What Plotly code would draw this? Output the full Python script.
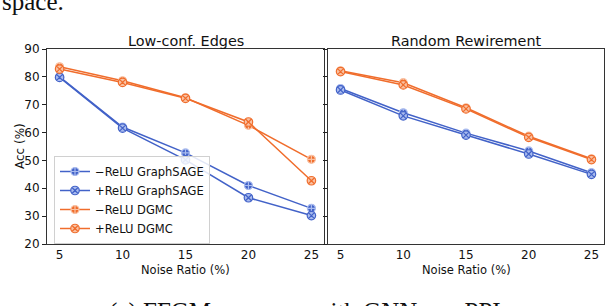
import plotly.graph_objects as go

noise = [5, 10, 15, 20, 25]

# Low-conf. Edges
lc_sage_minus = [80.0, 62.0, 52.7, 41.0, 32.8]
lc_sage_plus = [79.8, 61.6, 50.2, 36.6, 30.2]
lc_dgmc_minus = [83.6, 78.6, 72.5, 62.6, 50.4]
lc_dgmc_plus = [82.8, 78.0, 72.3, 63.8, 42.7]

# Random Rewirement
rr_sage_minus = [75.8, 67.1, 59.8, 53.4, 45.6]
rr_sage_plus = [75.3, 66.0, 59.1, 52.3, 45.0]
rr_dgmc_minus = [82.2, 77.9, 68.9, 58.7, 50.6]
rr_dgmc_plus = [81.9, 77.1, 68.5, 58.3, 50.3]

series_names = ["\u2212ReLU GraphSAGE", "+ReLU GraphSAGE", "\u2212ReLU DGMC", "+ReLU DGMC"]
title_left = "Low-conf. Edges"
title_right = "Random Rewirement"
x_title = "Noise Ratio (%)"
y_title = "Acc (%)"

BLUE = "#4262c8"
BLUE_L = "#a9bbee"
ORANGE = "#f06d2c"
ORANGE_L = "#f9c1a2"
FONT = "DejaVu Sans"

W, H = 606, 306
ML, MR, MT, MB = 0, 0, 49, 62
PH = H - MT - MB


def px(x):
    return x / W


def py(y):
    return (H - MB - y) / PH


styles = [
    dict(color=BLUE, symbol="circle-cross", fill=BLUE, edge=BLUE_L, size=8),
    dict(color=BLUE, symbol="circle-x", fill=BLUE_L, edge=BLUE, size=8.5),
    dict(color=ORANGE, symbol="circle-cross", fill=ORANGE, edge=ORANGE_L, size=8),
    dict(color=ORANGE, symbol="circle-x", fill=ORANGE_L, edge=ORANGE, size=8.5),
]

fig = go.Figure()
panels = [
    ("x", "y", [lc_sage_minus, lc_sage_plus, lc_dgmc_minus, lc_dgmc_plus], True),
    ("x2", "y2", [rr_sage_minus, rr_sage_plus, rr_dgmc_minus, rr_dgmc_plus], False),
]
for xa, ya, data, show in panels:
    for name, vals, st in zip(series_names, data, styles):
        fig.add_trace(go.Scatter(
            x=noise, y=vals, name=name, xaxis=xa, yaxis=ya,
            mode="lines+markers", showlegend=show,
            line=dict(color=st["color"], width=1.5),
            marker=dict(symbol=st["symbol"], size=st["size"], color=st["fill"],
                        line=dict(color=st["edge"], width=1.2)),
        ))

# labelled x axes carry no tick marks (labels sit close to the frame);
# overlaid twin axes draw the outside tick marks
axis_labels = dict(
    range=[4, 26], tickvals=noise, ticks="", showline=True, linecolor="#333",
    linewidth=1, mirror=True, showgrid=False, zeroline=False, automargin=False,
    tickfont=dict(size=12, color="#111", family=FONT),
)
axis_ticks = dict(
    range=[4, 26], tickvals=noise, ticks="outside", ticklen=3.5, tickwidth=1,
    tickcolor="#222", showline=False, showgrid=False, zeroline=False,
    showticklabels=False, automargin=False,
)
yaxis_common = dict(
    range=[20, 90], tickvals=[20, 30, 40, 50, 60, 70, 80, 90], ticks="outside",
    ticklen=4, tickwidth=1, tickcolor="#222", showline=True, linecolor="#333",
    linewidth=1, mirror=True, showgrid=False, zeroline=False, automargin=False,
)


def ann(text, x, y, size=12, family=FONT, **kw):
    d = dict(text=text, x=px(x), y=py(y), xref="paper", yref="paper",
             xanchor="center", yanchor="middle", showarrow=False,
             font=dict(size=size, family=family, color="#111"))
    d.update(kw)
    return d


fig.update_layout(
    width=W, height=H, margin=dict(l=ML, r=MR, t=MT, b=MB, autoexpand=False),
    plot_bgcolor="white", paper_bgcolor="white",
    font=dict(family=FONT, size=12, color="#111"),
    xaxis=dict(domain=[px(47), px(324)], anchor="y", **axis_labels),
    xaxis3=dict(domain=[px(47), px(324)], anchor="y", overlaying="x", side="bottom", **axis_ticks),
    yaxis=dict(domain=[0, 1], anchor="x", tickfont=dict(size=12, color="#111", family=FONT), **yaxis_common),
    xaxis2=dict(domain=[px(328), px(604)], anchor="y2", **axis_labels),
    xaxis4=dict(domain=[px(328), px(604)], anchor="y2", overlaying="x2", side="bottom", **axis_ticks),
    yaxis2=dict(domain=[0, 1], anchor="x2", showticklabels=False, **yaxis_common),
    legend=dict(
        x=px(54), y=py(156), xanchor="left", yanchor="top",
        bgcolor="rgba(255,255,255,0.85)", bordercolor="#d0d0d0", borderwidth=1,
        font=dict(size=11.5, family=FONT, color="#111"),
        tracegroupgap=0, itemwidth=30,
    ),
    annotations=[
        ann(title_left, 185.5, 41, size=14.4),
        ann(title_right, 466, 41, size=14.4),
        ann(x_title, 185.5, 269.5, size=11.5),
        ann(x_title, 466, 269.5, size=11.5),
        ann(y_title, 20, 146, textangle=-90),
        ann("space.", 0, 2, size=25, family="Liberation Serif", xanchor="left"),
        ann("(a) FFGM accuracy with GNNs on PPI", 305, 312, size=25, family="Liberation Serif"),
    ],
)

fig.write_html(
    "out.html",
    config={"displayModeBar": False},
    post_script="document.body.style.margin='0';document.body.style.padding='0';",
)
